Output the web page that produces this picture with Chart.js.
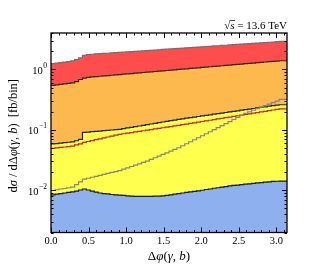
<!DOCTYPE html>
<html>
<head>
<meta charset="utf-8">
<script src="https://cdn.jsdelivr.net/npm/chart.js@4.4.0/dist/chart.umd.min.js"></script>
<style>
  html, body { margin: 0; padding: 0; background: #fff; }
  canvas { display: block; }
</style>
</head>
<body>
<canvas id="chart" width="319" height="277"></canvas>
<script>
// 60 bins in dphi from 0 to pi
const xMax = Math.PI
const xTicks = [0, 0.5, 1, 1.5, 2, 2.5, 3]
const yTicks = [0.01, 0.1, 1]
const yTickExp = ['\u22122', '\u22121', '0']

// band upper edges (fb/bin), one value per bin
const totalUpper = [
  1.23, 1.25, 1.27, 1.29, 1.32, 1.35, 1.38, 1.45, 1.55, 1.70,
  1.76, 1.78, 1.80, 1.82, 1.84, 1.85, 1.87, 1.89, 1.91, 1.93,
  1.95, 1.97, 1.99, 2.01, 2.03, 2.05, 2.07, 2.09, 2.11, 2.14,
  2.16, 2.18, 2.20, 2.22, 2.25, 2.27, 2.29, 2.32, 2.34, 2.36,
  2.39, 2.41, 2.44, 2.46, 2.49, 2.51, 2.54, 2.56, 2.59, 2.62,
  2.64, 2.67, 2.70, 2.72, 2.75, 2.78, 2.81, 2.84, 2.87, 2.90
]
const orangeUpper = [
  0.535, 0.545, 0.555, 0.565, 0.575, 0.587, 0.600, 0.625, 0.680, 0.715,
  0.740, 0.750, 0.760, 0.770, 0.780, 0.790, 0.800, 0.811, 0.821, 0.832,
  0.843, 0.854, 0.865, 0.876, 0.888, 0.899, 0.911, 0.923, 0.935, 0.947,
  0.959, 0.972, 0.984, 0.997, 1.010, 1.023, 1.036, 1.050, 1.063, 1.077,
  1.091, 1.105, 1.120, 1.134, 1.149, 1.164, 1.179, 1.195, 1.210, 1.226,
  1.242, 1.258, 1.274, 1.291, 1.308, 1.325, 1.342, 1.360, 1.375, 1.390
]
const yellowUpper = [
  0.0574, 0.0583, 0.0593, 0.0603, 0.0613, 0.0623, 0.0634, 0.0660, 0.0695, 0.0907,
  0.0919, 0.0931, 0.0943, 0.0955, 0.0968, 0.0981, 0.0994, 0.1007, 0.1020, 0.1046,
  0.1073, 0.1100, 0.1128, 0.1157, 0.1187, 0.1217, 0.1248, 0.1280, 0.1313, 0.1347,
  0.1381, 0.1416, 0.1452, 0.1490, 0.1523, 0.1556, 0.1590, 0.1625, 0.1661, 0.1697,
  0.1735, 0.1773, 0.1812, 0.1852, 0.1893, 0.1934, 0.1977, 0.2020, 0.2065, 0.2110,
  0.2157, 0.2204, 0.2253, 0.2302, 0.2353, 0.2405, 0.2458, 0.2512, 0.2567, 0.2600
]
const blueUpper = [
  0.0083, 0.0084, 0.0086, 0.0088, 0.0090, 0.0092, 0.0094, 0.0097, 0.0101, 0.0105,
  0.0101, 0.0097, 0.0093, 0.0090, 0.0088, 0.0087, 0.0085, 0.0084, 0.0083, 0.0082,
  0.0081, 0.0080, 0.0079, 0.0079, 0.0079, 0.0079, 0.0079, 0.0080, 0.0080, 0.0081,
  0.0082, 0.0084, 0.0086, 0.0088, 0.0090, 0.0092, 0.0094, 0.0096, 0.0098, 0.0100,
  0.0103, 0.0105, 0.0108, 0.0110, 0.0113, 0.0115, 0.0118, 0.0120, 0.0122, 0.0124,
  0.0126, 0.0128, 0.0130, 0.0132, 0.0134, 0.0136, 0.0138, 0.0140, 0.0141, 0.0142
]
// extra curves drawn as lines only
const redCurve = [
  0.0486, 0.0494, 0.0502, 0.0511, 0.0520, 0.0529, 0.0538, 0.0565, 0.0585, 0.0620,
  0.0641, 0.0664, 0.0687, 0.0710, 0.0735, 0.0760, 0.0787, 0.0814, 0.0841, 0.0861,
  0.0881, 0.0901, 0.0922, 0.0943, 0.0965, 0.0988, 0.1011, 0.1034, 0.1058, 0.1083,
  0.1108, 0.1133, 0.1160, 0.1186, 0.1215, 0.1245, 0.1276, 0.1307, 0.1340, 0.1373,
  0.1406, 0.1441, 0.1477, 0.1513, 0.1550, 0.1589, 0.1628, 0.1668, 0.1709, 0.1751,
  0.1794, 0.1838, 0.1884, 0.1930, 0.1978, 0.2026, 0.2076, 0.2127, 0.2180, 0.2220
]
const grayCurve = [
  0.0097, 0.0099, 0.0102, 0.0105, 0.0107, 0.0110, 0.0113, 0.0124, 0.0138, 0.0153,
  0.0158, 0.0164, 0.0170, 0.0176, 0.0183, 0.0190, 0.0197, 0.0204, 0.0212, 0.0223,
  0.0235, 0.0247, 0.0260, 0.0274, 0.0289, 0.0304, 0.0324, 0.0345, 0.0367, 0.0391,
  0.0417, 0.0444, 0.0474, 0.0505, 0.0545, 0.0588, 0.0635, 0.0685, 0.0739, 0.0798,
  0.0861, 0.0929, 0.1004, 0.1086, 0.1174, 0.1269, 0.1371, 0.1482, 0.1602, 0.1732,
  0.1875, 0.1988, 0.2107, 0.2233, 0.2367, 0.2509, 0.2660, 0.2820, 0.2990, 0.3190
]

const serif = '"Liberation Serif", "DejaVu Serif", serif'

// histogram: point at each left bin edge, plus closing point at pi
const toSteps = vals => {
  const w = xMax / vals.length
  const pts = vals.map((v, i) => ({ x: i * w, y: v }))
  pts.push({ x: xMax, y: vals[vals.length - 1] })
  return pts
}

const band = (vals, line, fillColor, order) => ({
  data: toSteps(vals),
  borderColor: line,
  backgroundColor: fillColor,
  fill: 'start',
  order: order,
})

const curve = (vals, line, order) => ({
  data: toSteps(vals),
  borderColor: line,
  fill: false,
  order: order,
})

// text made of [string, italic] pieces
const richWidth = (ctx, parts, size) => {
  let w = 0
  parts.forEach(([t, it]) => {
    ctx.font = (it ? 'italic ' : '') + size + 'px ' + serif
    w += ctx.measureText(t).width
  })
  return w
}
const drawRich = (ctx, parts, x, y, size) => {
  let cx = x - richWidth(ctx, parts, size) / 2
  ctx.textAlign = 'left'
  parts.forEach(([t, it]) => {
    ctx.font = (it ? 'italic ' : '') + size + 'px ' + serif
    ctx.fillText(t, cx, y)
    cx += ctx.measureText(t).width
  })
}

const axesPlugin = {
  id: 'axesPlugin',
  afterDraw(chart) {
    const ctx = chart.ctx
    const a = chart.chartArea
    const xs = chart.scales.x
    const ys = chart.scales.y
    ctx.save()
    ctx.strokeStyle = '#000'
    ctx.fillStyle = '#000'
    ctx.lineWidth = 1
    // inward ticks
    ctx.beginPath()
    for (let k = 0; k <= 31; k++) {
      const px = Math.round(xs.getPixelForValue(k / 10)) + 0.5
      const len = k % 5 === 0 ? 5 : 2.5
      ctx.moveTo(px, a.bottom); ctx.lineTo(px, a.bottom - len)
      ctx.moveTo(px, a.top); ctx.lineTo(px, a.top + len)
    }
    for (let d = -3; d <= 0; d++) {
      for (let m = 1; m <= 9; m++) {
        const v = m * Math.pow(10, d)
        if (v < ys.min || v > ys.max) continue
        const py = Math.round(ys.getPixelForValue(v)) + 0.5
        const len = m === 1 ? 5 : 2.5
        ctx.moveTo(a.left, py); ctx.lineTo(a.left + len, py)
        ctx.moveTo(a.right, py); ctx.lineTo(a.right - len, py)
      }
    }
    ctx.stroke()
    ctx.lineWidth = 1.3
    ctx.strokeRect(a.left, a.top, a.right - a.left, a.bottom - a.top)

    // x tick labels
    ctx.textBaseline = 'middle'
    ctx.textAlign = 'center'
    ctx.font = '10.5px ' + serif
    xTicks.forEach(v => {
      ctx.fillText(v.toFixed(1), xs.getPixelForValue(v), a.bottom + 9)
    })
    // y tick labels 10^n
    yTicks.forEach((v, i) => {
      const py = ys.getPixelForValue(v)
      ctx.font = '7.5px ' + serif
      const supW = ctx.measureText(yTickExp[i]).width
      const right = a.left - 4
      ctx.textAlign = 'left'
      ctx.fillText(yTickExp[i], right - supW, py - 3.5)
      ctx.textAlign = 'right'
      ctx.font = '10.5px ' + serif
      ctx.fillText('10', right - supW - 0.5, py + 1.5)
    })

    // axis titles
    ctx.textBaseline = 'middle'
    drawRich(ctx, [['\u0394', false], ['\u03c6', true], ['(', false], ['\u03b3', true], [', ', false], ['b', true], [')', false]],
      (a.left + a.right) / 2, a.bottom + 24.5, 13)
    ctx.save()
    ctx.translate(14, (a.top + a.bottom) / 2 + 3)
    ctx.rotate(-Math.PI / 2)
    drawRich(ctx, [['d', false], ['\u03c3', true], [' / d\u0394', false], ['\u03c6', true], ['(', false], ['\u03b3', true],
      [', ', false], ['b', true], [')  [fb/bin]', false]], 0, 0, 12.5)
    ctx.restore()

    // energy label, right aligned to the frame
    ctx.textBaseline = 'alphabetic'
    const parts = [['\u221a', false], ['s', true], [' = 13.6 TeV', false]]
    const w = richWidth(ctx, parts, 11)
    const x0 = a.right - w
    drawRich(ctx, parts, x0 + w / 2, a.top - 4, 11)
    ctx.font = '11px ' + serif
    const rootW = ctx.measureText('\u221a').width
    ctx.font = 'italic 11px ' + serif
    const sW = ctx.measureText('s').width
    ctx.lineWidth = 0.7
    ctx.beginPath()
    ctx.moveTo(x0 + rootW - 0.5, a.top - 12.5)
    ctx.lineTo(x0 + rootW + sW + 0.5, a.top - 12.5)
    ctx.stroke()
    ctx.restore()
  },
}

new Chart(document.getElementById('chart'), {
  type: 'line',
  data: {
    datasets: [
      band(totalUpper, '#707070', '#ff4d4d', 6),
      band(orangeUpper, '#2b2b2b', '#fdb94e', 5),
      band(yellowUpper, '#1d2636', '#ffff4d', 4),
      band(blueUpper, '#1a1a1a', '#8fb0ee', 3),
      curve(redCurve, '#d0201c', 2),
      curve(grayCurve, '#858585', 1),
    ],
  },
  options: {
    responsive: false,
    animation: false,
    layout: { padding: { left: 51, right: 32, top: 33, bottom: 44.5 } },
    elements: {
      point: { radius: 0 },
      line: { borderWidth: 1.2, stepped: 'after', tension: 0 },
    },
    scales: {
      x: { type: 'linear', min: 0, max: xMax, display: false },
      y: { type: 'logarithmic', min: 0.002, max: 4, display: false },
    },
    plugins: {
      legend: { display: false },
      tooltip: { enabled: false },
    },
  },
  plugins: [axesPlugin],
})
</script>
</body>
</html>
